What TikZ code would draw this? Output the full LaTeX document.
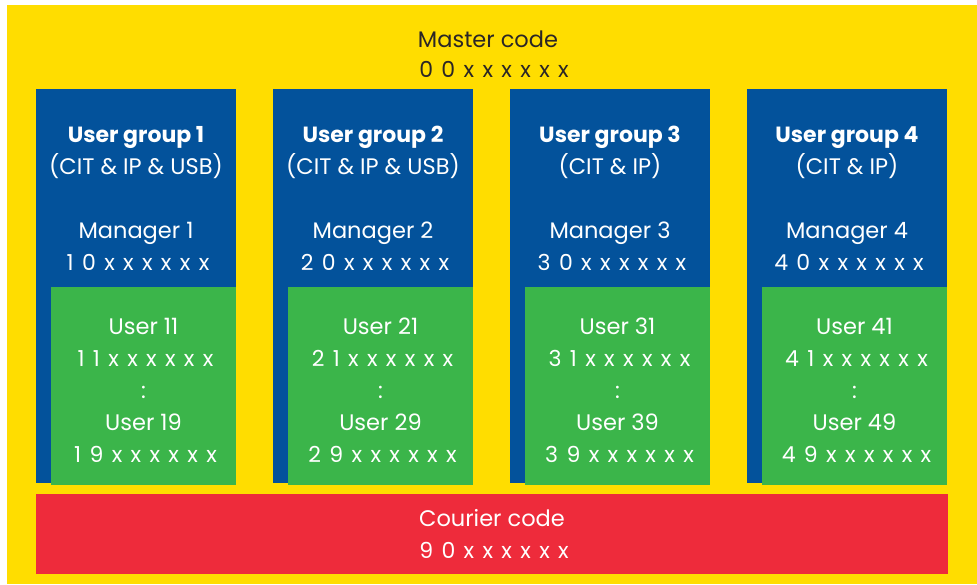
\documentclass[tikz,border=0pt]{standalone}
\usepackage{fontspec}
\setmainfont{Poppins}
\newfontfamily\codefont[LetterSpace=38]{Poppins}
\definecolor{myyellow}{HTML}{FFDD00}
\definecolor{myblue}{HTML}{03529B}
\definecolor{mygreen}{HTML}{3BB54A}
\definecolor{myred}{HTML}{EE2B3B}
\definecolor{mydark}{HTML}{2A2626}
\begin{document}
\begin{tikzpicture}[x=1pt,y=-1pt,
  box/.style={anchor=north west,inner sep=0pt,outer sep=0pt,draw=none},
  txt/.style={anchor=base,inner sep=0pt,text=white,font=\fontsize{22.5}{26}\selectfont},
  codetxt/.style={txt,font=\fontsize{22}{26}\selectfont\codefont},
  ttl/.style={txt,font=\fontsize{22}{26}\selectfont\bfseries}]
\useasboundingbox (0,0) rectangle (977,584);
\fill[white] (0,0) rectangle (977,584);
\node[box,fill=myyellow,minimum width=970pt,minimum height=579pt] (bg) at (7,5) {};
\node[txt,text=mydark] (mastert) at (488,47) {Master code};
\node[codetxt,text=mydark] (masterc) at (494,77) {00xxxxxx};
\node[box,fill=myred,minimum width=912pt,minimum height=80pt] (courier) at (36,494) {};
\node[txt] (couriert) at (492,526) {Courier code};
\node[codetxt] (courierc) at (494,558) {90xxxxxx};
\foreach \i/\sub in {1/CIT \& IP \& USB,2/CIT \& IP \& USB,3/CIT \& IP,4/CIT \& IP}{
  \pgfmathsetmacro{\xl}{36+237*(\i-1)}
  \pgfmathsetmacro{\xc}{\xl+100}
  \pgfmathsetmacro{\xcc}{\xl+102}
  \pgfmathsetmacro{\xg}{\xl+15}
  \pgfmathsetmacro{\xgc}{\xl+107.5}
  \pgfmathsetmacro{\xgcc}{\xl+109.5}
  \node[box,fill=myblue,minimum width=200pt,minimum height=394pt] (grp\i) at (\xl,89) {};
  \node[box,fill=mygreen,minimum width=185pt,minimum height=198pt] (usr\i) at (\xg,287) {};
  \node[ttl] (ttl\i) at (\xc,142) {User group \i};
  \node[txt] (sub\i) at (\xc,174) {(\sub)};
  \node[txt] (mgr\i) at (\xc,238) {Manager \i};
  \node[codetxt] (mgrc\i) at (\xcc,270) {\i0xxxxxx};
  \node[txt] (ua\i) at (\xgc,334) {User \i1};
  \node[codetxt] (uac\i) at (\xgcc,366) {\i1xxxxxx};
  \node[txt] (dots\i) at (\xgc,398) {:};
  \node[txt] (ub\i) at (\xgc,430) {User \i9};
  \node[codetxt] (ubc\i) at (\xgcc,462) {\i9xxxxxx};
}
\end{tikzpicture}
\end{document}
